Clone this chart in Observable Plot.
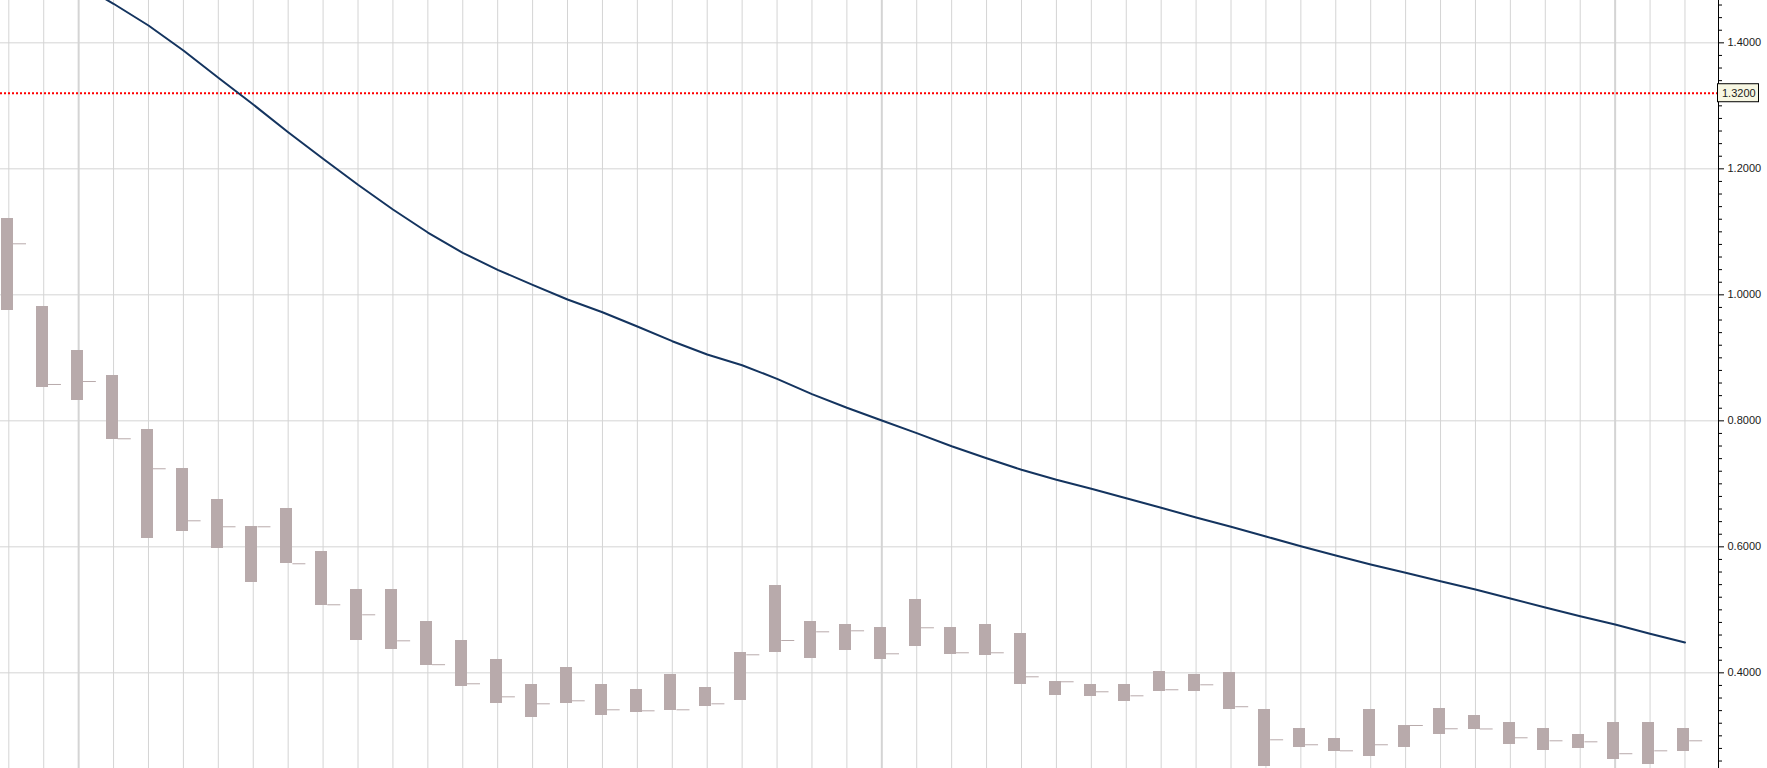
<!DOCTYPE html>
<html>
<head>
<meta charset="utf-8">
<script src="https://cdn.jsdelivr.net/npm/d3@7"></script>
<script src="https://cdn.jsdelivr.net/npm/@observablehq/plot@0.6"></script>
<style>
  html, body { margin: 0; padding: 0; background: #ffffff; }
  #chart svg { display: block; }
</style>
</head>
<body>
<div id="chart"></div>
<script>
// ---- data ----
const highs = [1.1212, 0.9815, 0.9116, 0.8720, 0.7862, 0.7243, 0.6751, 0.6323, 0.6608, 0.5926,
  0.5323, 0.5323, 0.4815, 0.4513, 0.4212, 0.3815, 0.4085, 0.3815, 0.3735, 0.3974,
  0.3767, 0.4323, 0.5386, 0.4815, 0.4767, 0.4720, 0.5164, 0.4720, 0.4767, 0.4624,
  0.3862, 0.3815, 0.3815, 0.4021, 0.3974, 0.4002, 0.3418, 0.3116, 0.2958, 0.3418,
  0.3164, 0.3434, 0.3323, 0.3212, 0.3116, 0.3021, 0.3212, 0.3212, 0.3116];
const lows = [0.9757, 0.8534, 0.8328, 0.7709, 0.6137, 0.6249, 0.5979, 0.5439, 0.5731, 0.5074,
  0.4518, 0.4376, 0.4124, 0.3788, 0.3518, 0.3296, 0.3518, 0.3328, 0.3376, 0.3407,
  0.3471, 0.3566, 0.4328, 0.4233, 0.4360, 0.4217, 0.4423, 0.4296, 0.4280, 0.3820,
  0.3645, 0.3630, 0.3550, 0.3709, 0.3709, 0.3423, 0.2518, 0.2820, 0.2757, 0.2677,
  0.2820, 0.3026, 0.3106, 0.2868, 0.2772, 0.2804, 0.2630, 0.2550, 0.2757];
const closes = [1.0810, 0.8577, 0.8624, 0.7715, 0.7239, 0.6413, 0.6318, 0.6318, 0.5731, 0.5080,
  0.4921, 0.4508, 0.4129, 0.3826, 0.3619, 0.3508, 0.3556, 0.3413, 0.3397, 0.3413,
  0.3508, 0.4286, 0.4513, 0.4651, 0.4667, 0.4302, 0.4715, 0.4318, 0.4318, 0.3937,
  0.3858, 0.3699, 0.3635, 0.3731, 0.3810, 0.3462, 0.2937, 0.2858, 0.2762, 0.2858,
  0.3164, 0.3112, 0.3109, 0.2969, 0.2921, 0.2905, 0.2716, 0.2762, 0.2921];
const movingAverage = [1.555, 1.525, 1.494, 1.4620, 1.4275, 1.3878, 1.3445, 1.3021, 1.2581, 1.2159,
  1.1747, 1.1354, 1.0989, 1.0667, 1.0397, 1.0159, 0.9926, 0.9724, 0.9497, 0.9264,
  0.9053, 0.8883, 0.8667, 0.8423, 0.8207, 0.8005, 0.7804, 0.7597, 0.7407, 0.7223,
  0.7064, 0.6921, 0.6772, 0.6620, 0.6466, 0.6318, 0.6164, 0.6010, 0.5862, 0.5720,
  0.5588, 0.5454, 0.5323, 0.5180, 0.5037, 0.4899, 0.4767, 0.4620, 0.4481];
const periodBreaks = [2, 25, 46];
const referenceLevel = 1.32;
const majorTicks = [0.4, 0.6, 0.8, 1.0, 1.2, 1.4];
const minorTicks = d3.range(13, 74).map(k => k / 50).filter(v => !majorTicks.some(m => Math.abs(m - v) < 1e-9));

// ---- build tables ----
const bars = highs.map((h, i) => ({ i, high: h, low: lows[i], close: closes[i] }));
const maPoints = movingAverage.map((v, i) => ({ i, v }));
const barIndex = d3.range(highs.length);
const regularLines = barIndex.filter(i => !periodBreaks.includes(i));

const barColor = "#b8aaab";
const gridColor = "#d4d4d4";

const chart = Plot.plot({
  width: 1767,
  height: 768,
  marginLeft: 0,
  marginTop: 0,
  marginBottom: 0,
  marginRight: 49,
  style: { fontFamily: "'Liberation Sans', Arial, sans-serif", fontSize: "11px", background: "#ffffff", color: "#1a1a1a" },
  x: { type: "linear", domain: [-0.2377, 48.96], axis: null },
  y: { domain: [0.24814, 1.46719] },
  marks: [
    Plot.ruleY(majorTicks, { stroke: gridColor, strokeWidth: 1 }),
    Plot.ruleX(regularLines, { stroke: gridColor, strokeWidth: 1 }),
    Plot.ruleX(periodBreaks, { stroke: gridColor, strokeWidth: 2 }),
    Plot.ruleY([referenceLevel], { stroke: "#ff0000", strokeWidth: 2, strokeDasharray: "2,2" }),
    Plot.rect(bars, { x1: d => d.i - 0.209, x2: d => d.i + 0.1346, y1: "low", y2: "high", fill: barColor, shapeRendering: "crispEdges" }),
    Plot.ruleY(bars, { y: "close", x1: d => d.i + 0.1346, x2: d => d.i + 0.507, stroke: barColor, strokeWidth: 1 }),
    Plot.line(maPoints, { x: "i", y: "v", stroke: "#14345f", strokeWidth: 2, clip: true }),
    Plot.axisY(minorTicks, { anchor: "right", tickSize: 3, fill: "none", stroke: "#000", label: null }),
    Plot.axisY(majorTicks, { anchor: "right", tickSize: 5, tickPadding: 4, tickFormat: d3.format(".4f"), stroke: "#000", fill: "#1a1a1a", fontSize: 11, label: null }),
    Plot.frame({ anchor: "right", stroke: "#000" })
  ]
});

document.getElementById("chart").appendChild(chart);

// price label box on the reference level, placed with the plot's own scales
const yPos = chart.scale("y").apply(referenceLevel);
const xEdge = chart.scale("x").apply(48.96);
const svg = d3.select(chart);
const g = svg.append("g").attr("text-anchor", "start");
g.append("rect")
  .attr("x", xEdge - 0.5).attr("y", yPos - 9)
  .attr("width", 41).attr("height", 18)
  .attr("fill", "#f7f7e3").attr("stroke", "#000").attr("stroke-width", 1);
g.append("text")
  .attr("x", xEdge + 4).attr("y", yPos)
  .attr("dy", "0.35em")
  .attr("text-anchor", "start")
  .attr("fill", "#1a1a1a")
  .style("font-family", "'Liberation Sans', Arial, sans-serif")
  .style("font-size", "11px")
  .text(d3.format(".4f")(referenceLevel));
</script>
</body>
</html>
